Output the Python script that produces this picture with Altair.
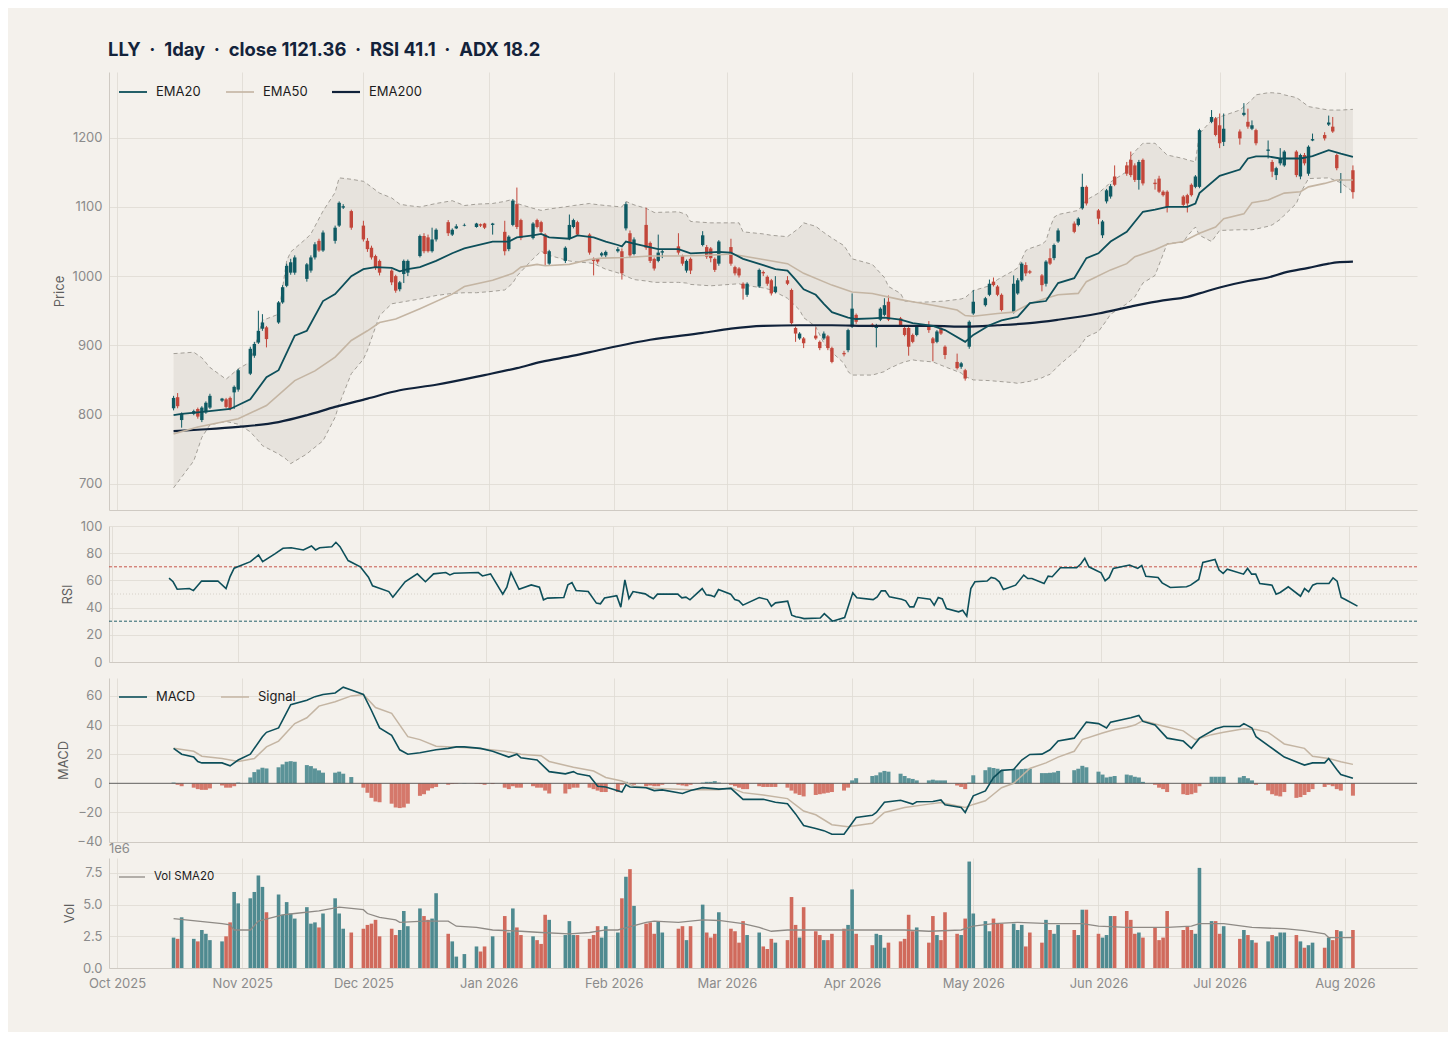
import altair as alt
import pandas as pd

# ---------------- text ----------------
title_text = "LLY \u00a0·\u00a0 1day \u00a0·\u00a0 close 1121.36 \u00a0·\u00a0 RSI 41.1 \u00a0·\u00a0 ADX 18.2"

# ---------------- trading calendar ----------------
holidays = ["2025-11-27", "2025-12-25", "2026-01-01", "2026-01-19", "2026-02-16",
            "2026-04-03", "2026-05-25", "2026-06-19", "2026-07-03"]

# ---------------- daily OHLC ----------------
open_ = [
    809, 825, 792, 801, 808, 792, 803, 810, 820, 822, 824, 832, 836,
    859, 885, 904, 924, 926, 933, 962, 986, 1005, 1005, 996, 1008, 1027, 1051, 1037, 1051, 1073, 1099, 1094,
    1073, 1051, 1041, 1029, 1022, 1008, 1000, 981, 1003, 1005, 1029, 1058, 1056, 1036, 1053, 1078, 1060, 1069, 1073, 1071, 1075, 1076,
    1074, 1064, 1039, 1074, 1104, 1081, 1055, 1081, 1078, 1060, 1018, 1022, 1055, 1071, 1078, 1060, 1025, 1025, 1030, 1030,
    1036, 1036, 1069, 1062, 1032, 1074, 1048, 1025, 1022, 1034, 1043, 1029, 1008, 1025, 1045, 1042, 1040, 1025, 1018,
    1042, 1013, 1011, 989, 973, 985, 1006, 999, 994, 977, 994, 980, 925, 910, 910, 914, 905, 910, 913, 896, 889, 893,
    927, 944, 930, 925, 937, 944, 963, 939, 925, 925, 915, 915, 927, 910, 905, 925, 898, 876, 869, 864, 898,
    946, 958, 973, 992, 985, 973, 948, 975, 994, 1016, 1007, 1001, 989, 1026, 1026, 1050, 1076, 1074, 1098, 1129,
    1095, 1059, 1108, 1115, 1144, 1160, 1168, 1160, 1139, 1168, 1135, 1141, 1122, 1122, 1115, 1117, 1132, 1129, 1129, 1223, 1228,
    1218, 1194, 1209, 1233, 1223, 1213, 1211, 1181, 1165, 1146, 1163, 1160, 1180, 1144, 1175, 1148, 1196, 1204, 1219, 1216, 1175, 1138,
    1153]
close_ = [
    824, 812, 801, 805, 797, 810, 817, 827, 823, 811, 808, 840, 864,
    895, 902, 921, 933, 909, 962, 984, 1015, 1020, 1027, 1017, 1027, 1046, 1037, 1063, 1070, 1106, 1101, 1070,
    1053, 1039, 1027, 1012, 1005, 991, 979, 991, 1022, 1022, 1058, 1036, 1036, 1053, 1067, 1062, 1067, 1072, 1074, 1076, 1073, 1070,
    1076, 1036, 1057, 1109, 1071, 1055, 1076, 1071, 1064, 1032, 1036, 1041, 1074, 1081, 1060, 1034, 1022, 1021, 1033, 1035,
    1039, 1004, 1104, 1030, 1053, 1041, 1022, 1011, 1034, 1036, 1034, 1018, 1022, 1008, 1059, 1028, 1026, 1009, 1050,
    1018, 1004, 1001, 982, 989, 1009, 1004, 989, 975, 985, 989, 932, 917, 917, 903, 910, 896, 917, 896, 876, 887, 922,
    953, 934, 928, 929, 953, 958, 937, 929, 915, 898, 905, 927, 922, 903, 920, 917, 886, 867, 874, 852, 934,
    963, 968, 989, 987, 973, 951, 989, 994, 1018, 1004, 1005, 987, 1021, 1018, 1045, 1066, 1064, 1083, 1129, 1105,
    1083, 1079, 1124, 1130, 1132, 1148, 1146, 1139, 1165, 1134, 1133, 1122, 1117, 1100, 1103, 1105, 1117, 1144, 1211, 1230, 1204,
    1192, 1213, 1199, 1236, 1216, 1218, 1192, 1183, 1151, 1156, 1170, 1180, 1146, 1175, 1163, 1187, 1198, 1199, 1222, 1209, 1156, 1140,
    1121.36]
high_ = [
    827, 831, 803, 807, 810, 812, 819, 830, 824, 824, 826, 842, 866,
    898, 905, 950, 945, 928, 964, 987, 1018, 1025, 1030, 1019, 1030, 1049, 1054, 1066, 1073, 1108, 1104, 1096,
    1080, 1055, 1044, 1031, 1024, 1010, 1002, 993, 1024, 1024, 1060, 1062, 1060, 1070, 1069, 1081, 1069, 1075, 1076, 1077, 1076, 1077,
    1077, 1080, 1059, 1111, 1128, 1083, 1078, 1083, 1080, 1062, 1038, 1043, 1089, 1083, 1080, 1062, 1027, 1026, 1035, 1037,
    1042, 1040, 1107, 1066, 1056, 1099, 1050, 1027, 1060, 1038, 1062, 1031, 1024, 1027, 1065, 1045, 1042, 1027, 1052,
    1054, 1015, 1013, 991, 991, 1011, 1008, 1001, 996, 1000, 1000, 982, 927, 919, 912, 926, 907, 920, 915, 898, 892, 924,
    975, 946, 932, 931, 955, 968, 972, 941, 927, 927, 917, 929, 935, 912, 922, 928, 900, 888, 876, 866, 936,
    980, 970, 995, 998, 987, 975, 1001, 997, 1020, 1020, 1009, 1003, 1023, 1040, 1047, 1069, 1079, 1085, 1148, 1131,
    1097, 1081, 1126, 1133, 1160, 1165, 1180, 1163, 1168, 1170, 1140, 1145, 1124, 1124, 1117, 1119, 1134, 1146, 1213, 1240, 1230,
    1235, 1235, 1212, 1250, 1242, 1225, 1213, 1196, 1168, 1158, 1185, 1182, 1182, 1177, 1178, 1189, 1206, 1208, 1232, 1230, 1177, 1149,
    1160]
low_ = [
    806, 809, 781, 799, 794, 789, 801, 808, 818, 809, 806, 808, 833,
    857, 882, 902, 921, 897, 931, 960, 984, 1002, 1002, 992, 1005, 1024, 1035, 1035, 1047, 1071, 1097, 1067,
    1050, 1035, 1024, 1009, 1001, 987, 976, 978, 990, 1000, 1027, 1033, 1034, 1034, 1050, 1058, 1058, 1068, 1072, 1070, 1071, 1068,
    1060, 1030, 1036, 1072, 1068, 1052, 1053, 1069, 1062, 1015, 1015, 1019, 1052, 1069, 1058, 1031, 1001, 1018, 1028, 1027,
    1034, 995, 1066, 1026, 1030, 1038, 1019, 1008, 1020, 1026, 1031, 1015, 1005, 1003, 1043, 1025, 1020, 1006, 1015,
    1015, 1001, 998, 966, 970, 983, 1000, 986, 972, 975, 987, 930, 905, 908, 896, 908, 893, 908, 893, 874, 884, 890,
    925, 931, 926, 897, 935, 942, 935, 927, 913, 885, 903, 913, 918, 877, 903, 915, 880, 865, 866, 849, 895,
    944, 956, 971, 985, 971, 949, 946, 973, 992, 1000, 1003, 978, 985, 1016, 1023, 1048, 1062, 1072, 1096, 1102,
    1075, 1055, 1105, 1112, 1130, 1145, 1143, 1136, 1125, 1131, 1125, 1120, 1115, 1092, 1101, 1092, 1115, 1127, 1127, 1221, 1202,
    1185, 1188, 1190, 1231, 1213, 1211, 1189, 1170, 1143, 1139, 1160, 1158, 1143, 1140, 1160, 1145, 1195, 1196, 1217, 1207, 1153, 1120,
    1112]

# daily volume in millions
volume_m = [
    2.4, 2.3, 4.0, 2.3, 2.1, 3.0, 2.7, 2.2, 2.1, 2.5, 3.6, 6.0, 5.1,
    5.5, 6.0, 7.3, 6.4, 4.4, 5.8, 4.2, 5.2, 4.3, 3.9, 4.8, 3.5, 3.6, 3.2, 4.3, 5.5, 4.3, 3.1, 2.8,
    3.1, 3.4, 3.5, 3.8, 2.5, 3.1, 2.6, 3.0, 4.5, 3.3, 4.7, 4.1, 3.8, 3.9, 5.9, 2.7, 2.1, 0.9, 1.1, 1.7, 1.3, 1.7,
    2.5, 4.1, 2.8, 4.7, 3.2, 2.6, 2.5, 2.2, 1.9, 4.2, 3.8, 2.6, 3.7, 2.6, 2.6, 2.3, 2.6, 3.3, 2.4, 3.3,
    2.8, 5.5, 7.2, 7.8, 4.9, 3.5, 3.6, 2.7, 3.7, 2.8, 3.1, 3.3, 2.2, 3.3, 5.0, 2.8, 2.4, 2.7, 4.4,
    3.1, 2.9, 2.0, 3.7, 2.6, 2.8, 1.7, 1.5, 2.3, 2.0, 2.2, 5.6, 3.4, 2.4, 4.8, 2.9, 2.6, 2.2, 2.2, 2.7, 3.1, 3.4,
    6.2, 2.7, 1.8, 2.7, 2.6, 1.6, 2.0, 2.1, 2.3, 4.2, 2.9, 3.2, 2.0, 4.1, 2.6, 2.2, 4.4, 2.7, 2.6, 3.9, 8.4,
    4.3, 3.7, 2.9, 3.9, 3.5, 3.5, 3.5, 3.0, 3.4, 1.7, 2.8, 2.0, 3.8, 3.0, 2.7, 3.4, 3.0, 2.6, 4.6, 4.6,
    2.7, 2.4, 2.6, 4.1, 4.1, 4.5, 3.8, 2.7, 2.8, 2.4, 3.2, 2.2, 2.4, 4.5, 3.0, 3.3, 3.0, 2.7, 7.9, 3.7, 3.7,
    2.7, 3.3, 2.3, 3.0, 2.6, 2.2, 2.0, 2.1, 2.6, 2.5, 2.8, 2.8, 2.6, 2.1, 1.6, 1.8, 2.0, 1.6, 2.4, 2.2, 3.0, 2.9,
    3.0]

# daily MACD histogram
macd_hist = [
    0.5, -1, -2, -3, -4, -4.5, -4.5, -3.5, -1.5, -3, -3, -2, 0.5,
    4, 7.7, 9.5, 10.7, 10.2, 11, 13, 14.8, 15.2, 14.8, 12.5, 11.8, 10.2, 8.9, 7.3, 7.3, 8, 6.6, 4.3,
    -3, -6.5, -10, -12.5, -13, -14, -16.6, -17, -16.6, -14, -8.6, -7.5, -5, -3.4, -2.5, -1, -0.5, -0.3, 0.2, -0.3, -0.5, -1,
    -0.5, -3, -4, -2, -3, -3, -2, -3, -3, -5, -7, -7, -4, -3, -3, -3, -4, -5, -6, -6,
    -6, -1, 1, -0.5, -1, -2, -1.5, -2, -2, -1, -1, -1.5, -2, -1, 0.5, 1, 1, 1.5, 0.5,
    -1, -2, -3, -4, -4, -2, -2.5, -2.5, -2.5, -2.5, -3, -5, -7, -8, -9, -8, -7.5, -7, -6.5, -6, -5, -3,
    2, 3.5, 5, 5.5, 7.5, 8.5, 8, 6.6, 5, 3.5, 3, 2, 2, 2.5, 2, 2, 2, -1.5, -2.5, -4, 0.5,
    5.5, 9, 11, 10.5, 10, 9, 10, 9.5, 9.8, 10, 10, 7, 7, 7.2, 7.5, 8.5, 9, 10, 12, 11,
    8, 6, 4, 4.5, 5, 6, 5.5, 4.5, 4, 1, -1, -3, -4, -6, -7.5, -8, -7.5, -6.5, -2, 4.5, 4.5,
    4.5, 4.5, 4, 5, 3.5, 2, -1, -5, -7.5, -8.5, -9, -6, -10, -9.5, -8, -6, -4, -2.5, -1, -2, -4, -5,
    -8.5]

# ---------------- indicator lines ----------------
ema20_pts = [("2025-10-15", 799), ("2025-10-17", 801), ("2025-10-21", 803), ("2025-10-29", 808), ("2025-11-03", 822),
    ("2025-11-07", 854), ("2025-11-10", 864), ("2025-11-14", 914), ("2025-11-17", 921), ("2025-11-21", 964),
    ("2025-11-24", 974), ("2025-11-28", 1000), ("2025-12-01", 1010), ("2025-12-04", 1013), ("2025-12-08", 1012),
    ("2025-12-10", 1007), ("2025-12-12", 1010), ("2025-12-15", 1013), ("2025-12-19", 1022), ("2025-12-23", 1033),
    ("2025-12-26", 1040), ("2026-01-02", 1050), ("2026-01-06", 1050), ("2026-01-08", 1056), ("2026-01-12", 1059),
    ("2026-01-14", 1061), ("2026-01-16", 1056), ("2026-01-21", 1054), ("2026-01-23", 1059), ("2026-01-27", 1056),
    ("2026-01-30", 1050), ("2026-02-02", 1045), ("2026-02-03", 1043), ("2026-02-04", 1050), ("2026-02-06", 1047),
    ("2026-02-09", 1043), ("2026-02-12", 1039), ("2026-02-17", 1039), ("2026-02-20", 1033), ("2026-02-24", 1034),
    ("2026-02-27", 1035), ("2026-03-02", 1034), ("2026-03-05", 1025), ("2026-03-10", 1016), ("2026-03-13", 1010),
    ("2026-03-16", 1008), ("2026-03-18", 995), ("2026-03-20", 981), ("2026-03-23", 973), ("2026-03-25", 960),
    ("2026-03-27", 948), ("2026-03-31", 940), ("2026-04-02", 938), ("2026-04-06", 939), ("2026-04-09", 940),
    ("2026-04-13", 937), ("2026-04-16", 932), ("2026-04-21", 928), ("2026-04-24", 922), ("2026-04-29", 905),
    ("2026-05-01", 915), ("2026-05-05", 929), ("2026-05-08", 936), ("2026-05-12", 941), ("2026-05-15", 961),
    ("2026-05-19", 964), ("2026-05-22", 990), ("2026-05-26", 997), ("2026-05-29", 1026), ("2026-06-01", 1033),
    ("2026-06-04", 1050), ("2026-06-08", 1064), ("2026-06-12", 1093), ("2026-06-15", 1096), ("2026-06-18", 1100),
    ("2026-06-23", 1100), ("2026-06-25", 1105), ("2026-06-26", 1120), ("2026-07-01", 1145), ("2026-07-06", 1154),
    ("2026-07-08", 1170), ("2026-07-10", 1173), ("2026-07-13", 1173), ("2026-07-16", 1170), ("2026-07-21", 1170),
    ("2026-07-24", 1173.5), ("2026-07-28", 1182), ("2026-07-31", 1177), ("2026-08-03", 1172.5)]

ema50_pts = [("2025-10-15", 772), ("2025-10-21", 782), ("2025-10-31", 794), ("2025-11-07", 813), ("2025-11-14", 849),
    ("2025-11-19", 863), ("2025-11-24", 883), ("2025-11-28", 907), ("2025-12-02", 921), ("2025-12-05", 933),
    ("2025-12-09", 938), ("2025-12-15", 953), ("2025-12-23", 974), ("2025-12-26", 985), ("2026-01-02", 994),
    ("2026-01-07", 1004), ("2026-01-09", 1013), ("2026-01-13", 1017), ("2026-01-15", 1015), ("2026-01-21", 1017),
    ("2026-01-26", 1024), ("2026-01-29", 1026), ("2026-02-04", 1027), ("2026-02-10", 1029), ("2026-02-17", 1029),
    ("2026-02-24", 1030), ("2026-03-02", 1032), ("2026-03-10", 1024), ("2026-03-16", 1018), ("2026-03-20", 1004),
    ("2026-03-27", 987), ("2026-04-01", 977), ("2026-04-06", 975), ("2026-04-13", 966), ("2026-04-16", 963),
    ("2026-04-21", 958), ("2026-04-27", 951), ("2026-04-29", 943), ("2026-05-01", 942), ("2026-05-07", 946),
    ("2026-05-11", 948), ("2026-05-15", 960), ("2026-05-19", 968), ("2026-05-22", 973), ("2026-05-27", 975),
    ("2026-05-29", 992), ("2026-06-04", 1009), ("2026-06-08", 1018), ("2026-06-10", 1028), ("2026-06-15", 1038),
    ("2026-06-18", 1046), ("2026-06-22", 1050), ("2026-06-26", 1062), ("2026-06-30", 1071), ("2026-07-02", 1083),
    ("2026-07-07", 1090), ("2026-07-09", 1106), ("2026-07-13", 1110), ("2026-07-17", 1120), ("2026-07-21", 1122),
    ("2026-07-23", 1129), ("2026-07-27", 1134), ("2026-07-30", 1139), ("2026-08-03", 1139)]

ema200_pts = [("2025-10-15", 776), ("2025-10-21", 778), ("2025-10-31", 782), ("2025-11-10", 789), ("2025-11-17", 799),
    ("2025-11-24", 811), ("2025-12-02", 823), ("2025-12-10", 835), ("2025-12-19", 843), ("2025-12-31", 857),
    ("2026-01-08", 867), ("2026-01-14", 876), ("2026-01-22", 885), ("2026-01-29", 894), ("2026-02-10", 908),
    ("2026-02-23", 918), ("2026-03-02", 924), ("2026-03-10", 928), ("2026-03-19", 929), ("2026-03-27", 929),
    ("2026-04-06", 928), ("2026-04-21", 928), ("2026-04-29", 927), ("2026-05-07", 929), ("2026-05-15", 932),
    ("2026-05-22", 937), ("2026-06-01", 946), ("2026-06-09", 956), ("2026-06-17", 965), ("2026-06-23", 970),
    ("2026-06-26", 975), ("2026-07-02", 985), ("2026-07-08", 993), ("2026-07-13", 998), ("2026-07-17", 1005),
    ("2026-07-23", 1012), ("2026-07-28", 1018), ("2026-07-30", 1020), ("2026-08-03", 1021)]

# Bollinger band: (date, upper, lower)
bb_pts = [("2025-10-15", 888, 694), ("2025-10-20", 890, 733), ("2025-10-22", 882, 767), ("2025-10-24", 868, 785),
    ("2025-10-28", 851, 790), ("2025-10-31", 866, 786), ("2025-11-03", 876, 775), ("2025-11-05", 915, 762),
    ("2025-11-06", 936, 755), ("2025-11-10", 945, 743), ("2025-11-12", 1022, 735), ("2025-11-13", 1035, 729),
    ("2025-11-17", 1055, 743), ("2025-11-18", 1061, 748), ("2025-11-21", 1094, 762), ("2025-11-24", 1121, 796),
    ("2025-11-25", 1142, 815), ("2025-11-28", 1140, 859), ("2025-12-01", 1137, 880), ("2025-12-02", 1133, 893),
    ("2025-12-05", 1120, 943), ("2025-12-08", 1113, 960), ("2025-12-10", 1104, 962), ("2025-12-12", 1102, 964),
    ("2025-12-15", 1100, 967), ("2025-12-19", 1105, 972), ("2025-12-23", 1109, 975), ("2025-12-26", 1102, 976),
    ("2025-12-29", 1104, 976), ("2026-01-02", 1105, 978), ("2026-01-05", 1108, 980), ("2026-01-07", 1111, 990),
    ("2026-01-08", 1105, 1000), ("2026-01-12", 1098, 1025), ("2026-01-14", 1095, 1036), ("2026-01-16", 1097, 1030),
    ("2026-01-21", 1101, 1022), ("2026-01-22", 1102, 1021), ("2026-01-26", 1105, 1019), ("2026-01-27", 1104, 1018),
    ("2026-01-30", 1102, 1010), ("2026-02-03", 1100, 1003), ("2026-02-04", 1108, 1000), ("2026-02-06", 1103, 995),
    ("2026-02-09", 1098, 993), ("2026-02-11", 1092, 991), ("2026-02-17", 1093, 991), ("2026-02-19", 1089, 990),
    ("2026-02-20", 1079, 988), ("2026-02-25", 1077, 986), ("2026-03-04", 1077, 989), ("2026-03-05", 1064, 987),
    ("2026-03-10", 1061, 983), ("2026-03-12", 1059, 980), ("2026-03-16", 1057, 968), ("2026-03-19", 1070, 951),
    ("2026-03-20", 1077, 940), ("2026-03-23", 1072, 927), ("2026-03-25", 1063, 903), ("2026-03-27", 1055, 890),
    ("2026-03-30", 1044, 874), ("2026-03-31", 1035, 862), ("2026-04-01", 1025, 857), ("2026-04-06", 1017, 857),
    ("2026-04-09", 998, 862), ("2026-04-10", 985, 866), ("2026-04-13", 975, 874), ("2026-04-14", 964, 876),
    ("2026-04-16", 963, 879), ("2026-04-17", 962, 878), ("2026-04-21", 963, 876), ("2026-04-24", 964, 869),
    ("2026-04-28", 967, 860), ("2026-04-29", 969, 855), ("2026-05-01", 979, 850), ("2026-05-05", 986, 849),
    ("2026-05-07", 995, 848), ("2026-05-11", 1008, 846), ("2026-05-12", 1012, 845), ("2026-05-14", 1037, 847),
    ("2026-05-15", 1040, 848), ("2026-05-18", 1046, 853), ("2026-05-19", 1051, 856), ("2026-05-20", 1070, 858),
    ("2026-05-21", 1085, 864), ("2026-05-22", 1089, 870), ("2026-05-27", 1095, 895), ("2026-05-29", 1110, 912),
    ("2026-06-01", 1120, 920), ("2026-06-03", 1130, 936), ("2026-06-04", 1136, 945), ("2026-06-08", 1151, 960),
    ("2026-06-09", 1173, 965), ("2026-06-10", 1180, 970), ("2026-06-12", 1192, 990), ("2026-06-15", 1192, 1001),
    ("2026-06-18", 1175, 1047), ("2026-06-22", 1170, 1049), ("2026-06-23", 1168, 1058), ("2026-06-25", 1165, 1071),
    ("2026-06-26", 1206, 1059), ("2026-06-29", 1225, 1050), ("2026-07-01", 1230, 1066), ("2026-07-06", 1240, 1067),
    ("2026-07-09", 1255, 1067), ("2026-07-10", 1262, 1068), ("2026-07-13", 1265, 1072), ("2026-07-14", 1265, 1074),
    ("2026-07-16", 1264, 1082), ("2026-07-17", 1262, 1088), ("2026-07-20", 1258, 1105), ("2026-07-21", 1254, 1120),
    ("2026-07-23", 1245, 1141), ("2026-07-28", 1240, 1142), ("2026-07-31", 1240, 1135), ("2026-08-03", 1241, 1122)]

rsi_pts = [("2025-10-15", 61.6), ("2025-10-16", 59), ("2025-10-17", 53.5), ("2025-10-20", 54), ("2025-10-21", 52.5),
    ("2025-10-22", 56), ("2025-10-23", 59.5), ("2025-10-27", 59.6), ("2025-10-29", 54), ("2025-10-30", 62.8),
    ("2025-10-31", 69), ("2025-11-04", 73.8), ("2025-11-06", 78.7), ("2025-11-07", 73.8), ("2025-11-10", 79.5),
    ("2025-11-12", 83.6), ("2025-11-14", 84), ("2025-11-17", 82.4), ("2025-11-19", 85.3), ("2025-11-20", 82.4),
    ("2025-11-21", 84), ("2025-11-24", 84.8), ("2025-11-25", 88), ("2025-11-26", 84.8), ("2025-11-28", 74.6),
    ("2025-12-01", 70), ("2025-12-03", 62.3), ("2025-12-04", 56), ("2025-12-08", 51.8), ("2025-12-09", 47.7),
    ("2025-12-12", 59), ("2025-12-15", 64.8), ("2025-12-17", 59), ("2025-12-19", 64.8), ("2025-12-22", 65.8),
    ("2025-12-23", 64), ("2025-12-24", 65.3), ("2025-12-30", 65.8), ("2025-12-31", 63.3), ("2026-01-02", 64.8),
    ("2026-01-05", 49.9), ("2026-01-06", 55), ("2026-01-07", 65.8), ("2026-01-09", 53.5), ("2026-01-12", 56.7),
    ("2026-01-14", 55), ("2026-01-15", 45.7), ("2026-01-16", 47), ("2026-01-20", 47.4), ("2026-01-21", 56.7),
    ("2026-01-22", 58.4), ("2026-01-23", 52.6), ("2026-01-26", 51.8), ("2026-01-28", 43.3), ("2026-01-29", 42.8),
    ("2026-01-30", 47), ("2026-02-02", 48.7), ("2026-02-03", 40.3), ("2026-02-04", 60.4), ("2026-02-05", 46.7),
    ("2026-02-06", 51.8), ("2026-02-09", 50.1), ("2026-02-10", 48.2), ("2026-02-11", 46.5), ("2026-02-12", 49.9),
    ("2026-02-17", 49.9), ("2026-02-18", 47.2), ("2026-02-19", 47.7), ("2026-02-20", 45.7), ("2026-02-23", 54),
    ("2026-02-24", 49.4), ("2026-02-25", 49), ("2026-02-26", 47.9), ("2026-02-27", 53.3), ("2026-03-02", 49.9),
    ("2026-03-03", 45.9), ("2026-03-04", 45), ("2026-03-05", 41.8), ("2026-03-09", 47.4), ("2026-03-11", 45.9),
    ("2026-03-12", 41), ("2026-03-13", 43.5), ("2026-03-16", 44.7), ("2026-03-17", 34.4), ("2026-03-18", 33.2),
    ("2026-03-19", 32.7), ("2026-03-20", 31.9), ("2026-03-24", 32.4), ("2026-03-25", 35.6), ("2026-03-27", 30),
    ("2026-03-30", 32.7), ("2026-04-01", 50.9), ("2026-04-02", 47.2), ("2026-04-06", 45.9), ("2026-04-07", 47.9),
    ("2026-04-08", 52.3), ("2026-04-09", 52.3), ("2026-04-10", 47.9), ("2026-04-13", 46.2), ("2026-04-14", 45),
    ("2026-04-15", 40.5), ("2026-04-16", 40.5), ("2026-04-17", 47.4), ("2026-04-20", 46.2), ("2026-04-21", 41.8),
    ("2026-04-22", 47.4), ("2026-04-23", 46.4), ("2026-04-24", 39.3), ("2026-04-27", 36.9), ("2026-04-28", 38.1),
    ("2026-04-29", 33.7), ("2026-04-30", 54), ("2026-05-01", 59), ("2026-05-04", 59.5), ("2026-05-05", 62.2),
    ("2026-05-06", 61.4), ("2026-05-07", 59), ("2026-05-08", 53.3), ("2026-05-11", 56.5), ("2026-05-13", 63.9),
    ("2026-05-14", 61.4), ("2026-05-15", 61.4), ("2026-05-18", 57.7), ("2026-05-19", 63.1), ("2026-05-20", 62.7),
    ("2026-05-22", 69.3), ("2026-05-26", 69.3), ("2026-05-27", 72), ("2026-05-28", 76.2), ("2026-05-29", 70),
    ("2026-06-01", 65.6), ("2026-06-02", 59.7), ("2026-06-03", 62.2), ("2026-06-04", 68.8), ("2026-06-08", 71.3),
    ("2026-06-10", 68.8), ("2026-06-11", 71), ("2026-06-12", 63.1), ("2026-06-15", 62.2), ("2026-06-16", 58.2),
    ("2026-06-18", 54.8), ("2026-06-22", 55.3), ("2026-06-23", 56.5), ("2026-06-25", 60.7), ("2026-06-26", 73.2),
    ("2026-06-29", 75.4), ("2026-06-30", 67.6), ("2026-07-01", 65.1), ("2026-07-02", 68.3), ("2026-07-06", 64.6),
    ("2026-07-07", 68.8), ("2026-07-08", 64.6), ("2026-07-09", 64.6), ("2026-07-10", 57.7), ("2026-07-13", 56.5),
    ("2026-07-14", 49.9), ("2026-07-15", 51.1), ("2026-07-17", 55.3), ("2026-07-20", 48.4), ("2026-07-21", 54),
    ("2026-07-22", 51.6), ("2026-07-23", 56.5), ("2026-07-24", 57.7), ("2026-07-27", 57.7), ("2026-07-28", 61.9),
    ("2026-07-29", 59.5), ("2026-07-30", 47.4), ("2026-07-31", 45.9), ("2026-08-03", 41.1)]

macd_pts = [("2025-10-15", 24), ("2025-10-17", 20), ("2025-10-20", 18), ("2025-10-21", 15), ("2025-10-22", 14),
    ("2025-10-27", 14), ("2025-10-29", 12), ("2025-10-31", 16), ("2025-11-03", 20), ("2025-11-06", 32),
    ("2025-11-07", 35), ("2025-11-10", 38), ("2025-11-13", 54), ("2025-11-17", 57), ("2025-11-19", 59.5),
    ("2025-11-21", 61), ("2025-11-24", 62), ("2025-11-26", 66), ("2025-11-28", 64), ("2025-12-01", 61),
    ("2025-12-03", 50), ("2025-12-05", 38), ("2025-12-08", 33), ("2025-12-10", 23), ("2025-12-12", 20),
    ("2025-12-15", 21), ("2025-12-17", 22), ("2025-12-19", 23), ("2025-12-22", 24), ("2025-12-24", 25),
    ("2025-12-26", 25), ("2025-12-30", 24), ("2026-01-02", 22), ("2026-01-06", 18), ("2026-01-08", 20),
    ("2026-01-09", 17.5), ("2026-01-13", 16), ("2026-01-16", 8), ("2026-01-20", 6.5), ("2026-01-22", 8),
    ("2026-01-23", 6.5), ("2026-01-26", 5), ("2026-01-28", -2), ("2026-01-30", -2.5), ("2026-02-03", -6),
    ("2026-02-04", -1), ("2026-02-05", -2.5), ("2026-02-09", -3), ("2026-02-11", -5), ("2026-02-13", -4.5),
    ("2026-02-18", -7), ("2026-02-20", -5), ("2026-02-23", -3), ("2026-02-27", -4), ("2026-03-02", -3.5),
    ("2026-03-05", -11), ("2026-03-10", -11), ("2026-03-13", -13), ("2026-03-16", -14), ("2026-03-18", -21),
    ("2026-03-20", -29), ("2026-03-23", -31), ("2026-03-25", -32.5), ("2026-03-27", -35), ("2026-03-30", -35),
    ("2026-04-02", -23.5), ("2026-04-06", -22), ("2026-04-07", -20), ("2026-04-09", -13), ("2026-04-13", -11.6),
    ("2026-04-16", -14.3), ("2026-04-17", -12.7), ("2026-04-21", -12.5), ("2026-04-23", -11.4), ("2026-04-24", -14.8),
    ("2026-04-28", -16.6), ("2026-04-29", -20), ("2026-05-01", -8.6), ("2026-05-04", -5.2), ("2026-05-06", 3.9),
    ("2026-05-08", 8.9), ("2026-05-11", 9.5), ("2026-05-13", 16), ("2026-05-15", 19.8), ("2026-05-18", 20),
    ("2026-05-20", 23), ("2026-05-22", 29), ("2026-05-26", 31), ("2026-05-29", 42), ("2026-06-01", 41),
    ("2026-06-03", 38), ("2026-06-04", 42), ("2026-06-09", 45), ("2026-06-11", 46.6), ("2026-06-12", 42.5),
    ("2026-06-15", 40), ("2026-06-18", 31), ("2026-06-22", 29), ("2026-06-24", 24), ("2026-06-26", 31),
    ("2026-06-30", 37.5), ("2026-07-02", 39), ("2026-07-06", 39), ("2026-07-07", 41), ("2026-07-09", 38),
    ("2026-07-10", 32), ("2026-07-15", 22), ("2026-07-17", 18), ("2026-07-22", 12.5), ("2026-07-24", 14),
    ("2026-07-27", 14), ("2026-07-28", 17), ("2026-07-30", 9.5), ("2026-07-31", 6), ("2026-08-03", 3.4)]

signal_pts = [("2025-10-15", 24), ("2025-10-20", 22), ("2025-10-22", 18.6), ("2025-10-27", 17), ("2025-10-31", 15),
    ("2025-11-04", 17), ("2025-11-07", 25), ("2025-11-10", 29), ("2025-11-14", 41), ("2025-11-17", 45),
    ("2025-11-20", 53), ("2025-11-24", 56), ("2025-11-28", 60), ("2025-12-01", 61), ("2025-12-04", 52),
    ("2025-12-08", 48), ("2025-12-12", 32), ("2025-12-15", 30), ("2025-12-19", 25.5), ("2025-12-23", 25),
    ("2025-12-29", 24), ("2026-01-05", 22), ("2026-01-09", 20), ("2026-01-14", 19), ("2026-01-16", 15),
    ("2026-01-22", 11), ("2026-01-27", 8.4), ("2026-01-30", 4), ("2026-02-03", 1.6), ("2026-02-06", -2),
    ("2026-02-11", -3.4), ("2026-02-17", -4), ("2026-02-20", -4.5), ("2026-02-27", -4.5), ("2026-03-02", -3),
    ("2026-03-05", -6.4), ("2026-03-10", -8), ("2026-03-16", -10.5), ("2026-03-20", -19), ("2026-03-23", -21.6),
    ("2026-03-27", -28.4), ("2026-03-31", -29.8), ("2026-04-06", -27.5), ("2026-04-09", -20), ("2026-04-14", -16.6),
    ("2026-04-20", -14.3), ("2026-04-23", -13.2), ("2026-04-29", -16.6), ("2026-05-01", -14.5), ("2026-05-04", -12),
    ("2026-05-06", -7.5), ("2026-05-08", -3), ("2026-05-11", 0), ("2026-05-15", 10.2), ("2026-05-19", 14),
    ("2026-05-22", 18), ("2026-05-26", 22), ("2026-05-28", 30), ("2026-06-02", 34.5), ("2026-06-05", 37),
    ("2026-06-08", 38.5), ("2026-06-10", 40), ("2026-06-12", 43), ("2026-06-16", 40), ("2026-06-22", 36),
    ("2026-06-25", 30), ("2026-06-29", 33.4), ("2026-07-02", 35), ("2026-07-07", 37.5), ("2026-07-10", 37),
    ("2026-07-13", 35), ("2026-07-17", 27), ("2026-07-22", 24), ("2026-07-24", 18.6), ("2026-07-28", 17),
    ("2026-07-31", 14.8), ("2026-08-03", 13)]

volsma_pts = [("2025-10-15", 3.9), ("2025-10-21", 3.7), ("2025-10-27", 3.5), ("2025-10-29", 3.4), ("2025-10-30", 3.0),
    ("2025-11-03", 3.0), ("2025-11-05", 3.7), ("2025-11-11", 4.2), ("2025-11-14", 4.3), ("2025-11-20", 4.5),
    ("2025-11-25", 4.8), ("2025-12-01", 4.6), ("2025-12-02", 4.3), ("2025-12-05", 4.0), ("2025-12-09", 3.8),
    ("2025-12-10", 3.6), ("2025-12-16", 3.7), ("2025-12-22", 3.7), ("2025-12-24", 3.3), ("2025-12-29", 3.2),
    ("2026-01-02", 3.0), ("2026-01-09", 2.9), ("2026-01-14", 2.8), ("2026-01-21", 2.7), ("2026-01-26", 2.8),
    ("2026-01-30", 3.0), ("2026-02-02", 3.0), ("2026-02-09", 3.6), ("2026-02-11", 3.7), ("2026-02-17", 3.6),
    ("2026-02-23", 3.8), ("2026-02-27", 3.75), ("2026-03-05", 3.5), ("2026-03-09", 3.2), ("2026-03-12", 2.9),
    ("2026-03-16", 3.0), ("2026-03-27", 3.0), ("2026-04-14", 3.0), ("2026-04-20", 2.9), ("2026-04-28", 3.0),
    ("2026-05-01", 3.3), ("2026-05-06", 3.5), ("2026-05-12", 3.6), ("2026-05-20", 3.5), ("2026-05-28", 3.5),
    ("2026-06-01", 3.3), ("2026-06-08", 3.2), ("2026-06-18", 3.2), ("2026-06-24", 3.3), ("2026-06-26", 3.5),
    ("2026-07-02", 3.5), ("2026-07-09", 3.2), ("2026-07-17", 3.1), ("2026-07-22", 2.95), ("2026-07-27", 2.7),
    ("2026-07-28", 2.4), ("2026-08-03", 2.4)]

rsi_overbought = 70
rsi_oversold = 30
rsi_mid = 50
price_ticks = [700, 800, 900, 1000, 1100, 1200]
rsi_ticks = [0, 20, 40, 60, 80, 100]
macd_ticks = [-40, -20, 0, 20, 40, 60]
vol_ticks = [0, 2.5, 5, 7.5]

# ---------------- styling ----------------
BG = "#f4f1ec"
UP = "#0f5a63"
DOWN = "#c2463a"
VUP = "#4f8a90"
VDOWN = "#d06a5c"
HUP = "#5b9398"
HDOWN = "#d5786b"
C20 = "#0d4f5a"
C50 = "#c4b5a3"
C200 = "#10223a"
BAND = "#9b968f"
FONT = "Inter"

W = 1308
H_PRICE, H_RSI, H_MACD, H_VOL = 438, 136, 164, 110

# ---------------- frames ----------------
days = [d for d in pd.bdate_range("2025-10-15", "2026-08-03") if d.strftime("%Y-%m-%d") not in holidays]
df = pd.DataFrame({"date": days, "open": open_, "high": high_, "low": low_, "close": close_,
                   "vol": volume_m, "hist": macd_hist})


def frame(points):
    return pd.DataFrame({"date": pd.to_datetime([p[0] for p in points]), "v": [p[1] for p in points]})


bb = pd.DataFrame({"date": pd.to_datetime([p[0] for p in bb_pts]),
                   "upper": [p[1] for p in bb_pts], "lower": [p[2] for p in bb_pts]})
one = pd.DataFrame({"k": [0]})

XDOM = [alt.DateTime(year=2025, month=9, date=30, hours=6),
        alt.DateTime(year=2026, month=8, date=17, hours=15)]
MONTHS = [alt.DateTime(year=2025, month=m, date=1) for m in (10, 11, 12)] + \
         [alt.DateTime(year=2026, month=m, date=1) for m in range(1, 9)]


def xenc(bottom=False):
    if bottom:
        ax = alt.Axis(values=MONTHS, format="%b %Y", title=None, grid=True, ticks=False,
                      domain=True, labelFlush=False, labelPadding=9)
    else:
        ax = alt.Axis(values=MONTHS, labels=False, ticks=False, title=None, grid=True,
                      domain=True, minExtent=0, maxExtent=0)
    return alt.X("date:T", scale=alt.Scale(domain=XDOM), axis=ax)


def yenc(field, domain, ticks, title, fmt):
    return alt.Y(f"{field}:Q", scale=alt.Scale(domain=domain, nice=False, zero=False),
                 axis=alt.Axis(values=ticks, title=title, format=fmt))


def legend_item(x0, y, color, width, label, size=13, length=28, gap=9):
    ln = alt.Chart(one).mark_rule(color=color, strokeWidth=width).encode(
        x=alt.value(x0), x2=alt.value(x0 + length), y=alt.value(y))
    tx = alt.Chart(one).mark_text(align="left", baseline="middle", fontSize=size, font=FONT,
                                  color="#1c1c1c").encode(
        x=alt.value(x0 + length + gap), y=alt.value(y), text=alt.value(label))
    return [ln, tx]


updown = alt.condition("datum.close >= datum.open", alt.value(UP), alt.value(DOWN))
vupdown = alt.condition("datum.close >= datum.open", alt.value(VUP), alt.value(VDOWN))
hupdown = alt.condition("datum.hist >= 0", alt.value(HUP), alt.value(HDOWN))

# ---------------- price panel ----------------
PD = [662, 1295]
X = xenc()


def yp(field):
    return yenc(field, PD, price_ticks, "Price", "d")


band_area = alt.Chart(bb).mark_area(color="#d8d3cb", opacity=0.45).encode(x=X, y=yp("upper"), y2="lower:Q")
band_up = alt.Chart(bb).mark_line(color=BAND, strokeWidth=0.9, strokeDash=[4, 3]).encode(x=X, y=yp("upper"))
band_lo = alt.Chart(bb).mark_line(color=BAND, strokeWidth=0.9, strokeDash=[4, 3]).encode(x=X, y=yp("lower"))
wicks = alt.Chart(df).mark_rule(strokeWidth=1).encode(x=X, y=yp("low"), y2="high:Q", color=updown)
bodies = alt.Chart(df).mark_bar(size=3.4).encode(x=X, y=yp("open"), y2="close:Q", color=updown)
e200 = alt.Chart(frame(ema200_pts)).mark_line(color=C200, strokeWidth=2.2, interpolate="monotone").encode(
    x=X, y=yp("v"))
e50 = alt.Chart(frame(ema50_pts)).mark_line(color=C50, strokeWidth=1.6).encode(x=X, y=yp("v"))
e20 = alt.Chart(frame(ema20_pts)).mark_line(color=C20, strokeWidth=1.8).encode(x=X, y=yp("v"))
title_mark = alt.Chart(one).mark_text(align="left", baseline="alphabetic", fontSize=18.4, fontWeight="bold",
                                      font=FONT, color="#13233b").encode(
    x=alt.value(-1), y=alt.value(-16), text=alt.value(title_text))
price_layers = [band_area, band_up, band_lo, wicks, bodies, e200, e50, e20, title_mark]
price_layers += legend_item(10, 20, C20, 1.8, "EMA20")
price_layers += legend_item(117, 20, C50, 1.6, "EMA50")
price_layers += legend_item(223, 20, C200, 2.2, "EMA200")
price = alt.layer(*price_layers).properties(width=W, height=H_PRICE)

# ---------------- RSI panel ----------------
RD = [0, 100]


def yr(field):
    return yenc(field, RD, rsi_ticks, "RSI", "d")


rsi_line = alt.Chart(frame(rsi_pts)).mark_line(color=C20, strokeWidth=1.6).encode(x=X, y=yr("v"))
ob = alt.Chart(pd.DataFrame({"v": [rsi_overbought]})).mark_rule(
    strokeWidth=0.9, strokeDash=[3, 2], color="#c2463a").encode(y=yr("v"))
osl = alt.Chart(pd.DataFrame({"v": [rsi_oversold]})).mark_rule(
    strokeWidth=0.9, strokeDash=[3, 2], color="#0d4f5a").encode(y=yr("v"))
mid = alt.Chart(pd.DataFrame({"v": [rsi_mid]})).mark_rule(
    strokeWidth=0.8, strokeDash=[1, 2], color="#cfcac2").encode(y=yr("v"))
rsi = alt.layer(mid, ob, osl, rsi_line).properties(width=W, height=H_RSI)

# ---------------- MACD panel ----------------
MD = [-40.3, 72.3]


def ym(field):
    return yenc(field, MD, macd_ticks, "MACD", "d")


hist = alt.Chart(df).mark_bar(size=4.0).encode(x=X, y=ym("hist"), color=hupdown)
zero = alt.Chart(pd.DataFrame({"v": [0]})).mark_rule(color="#555555", strokeWidth=0.9).encode(y=ym("v"))
sig_line = alt.Chart(frame(signal_pts)).mark_line(color=C50, strokeWidth=1.5).encode(x=X, y=ym("v"))
macd_line = alt.Chart(frame(macd_pts)).mark_line(color=C20, strokeWidth=1.6).encode(x=X, y=ym("v"))
macd_layers = [hist, zero, sig_line, macd_line]
macd_layers += legend_item(10, 19, C20, 1.6, "MACD")
macd_layers += legend_item(112, 19, C50, 1.5, "Signal")
macd = alt.layer(*macd_layers).properties(width=W, height=H_MACD)

# ---------------- volume panel ----------------
VD = [0, 8.68]
XB = xenc(bottom=True)


def yv(field):
    return yenc(field, VD, vol_ticks, "Vol", ".1f")


vbars = alt.Chart(df).mark_bar(size=3.6).encode(x=XB, y=yv("vol"), color=vupdown)
vsma = alt.Chart(frame(volsma_pts)).mark_line(color="#8e8a85", strokeWidth=1.3).encode(x=XB, y=yv("v"))
sci = alt.Chart(one).mark_text(align="left", baseline="middle", fontSize=13, font=FONT, color="#8b8b8b").encode(
    x=alt.value(0), y=alt.value(-9), text=alt.value("1e6"))
vol_layers = [vbars, vsma, sci]
vol_layers += legend_item(10, 19, "#8e8a85", 1.3, "Vol SMA20", size=11.5, length=26)
vol = alt.layer(*vol_layers).properties(width=W, height=H_VOL)

chart = alt.vconcat(price, rsi, macd, vol, spacing=16, bounds="flush").properties(
    background=BG,
    padding={"left": 45, "top": 33, "right": 30, "bottom": 42},
).configure_view(stroke=None).configure_axis(
    labelFont=FONT, labelFontSize=13, labelColor="#8b8b8b",
    titleFont=FONT, titleFontSize=13, titleColor="#5e5e5e", titleFontWeight="normal",
    gridColor="#dedad3", gridWidth=0.8, domainColor="#cfcac3", ticks=False,
    labelPadding=7, titlePadding=6,
)

chart.save("out.html", embed_options={"renderer": "svg", "actions": False})
